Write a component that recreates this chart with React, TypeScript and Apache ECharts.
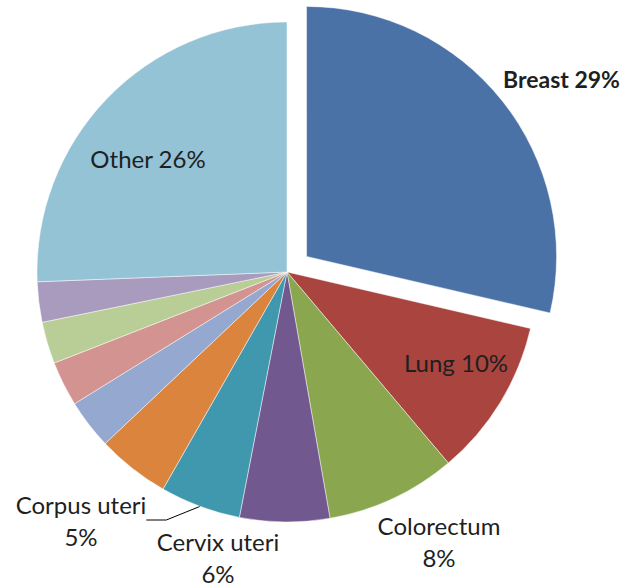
import React, { useEffect, useRef } from "react";
import * as echarts from "echarts";

const names = [
  "Breast",
  "Lung",
  "Colorectum",
  "Cervix uteri",
  "Corpus uteri",
  "Ovary",
  "Stomach",
  "Thyroid",
  "Liver",
  "Leukaemia",
  "Other",
];
const values = [28.6, 10.2, 8.4, 5.8, 5.2, 4.7, 3.2, 2.9, 2.7, 2.6, 25.6];
const colors = [
  "#4A72A6",
  "#A9443F",
  "#8AA64E",
  "#71588F",
  "#4098AF",
  "#DB843D",
  "#94A8D0",
  "#D29391",
  "#B9CD97",
  "#A99BBE",
  "#93C3D5",
];
const labelled = ["Lung", "Colorectum", "Cervix uteri", "Corpus uteri", "Other"];

// label anchor positions (pixels), keyed by category name
const labelPos: Record<string, { x: number; y: number; align: string }> = {
  Lung: { x: 456, y: 362, align: "center" },
  Colorectum: { x: 439, y: 541, align: "center" },
  "Cervix uteri": { x: 218, y: 557, align: "center" },
  "Corpus uteri": { x: 81, y: 520, align: "center" },
  Other: { x: 148, y: 158, align: "center" },
};

const FONT = "Lato, 'Noto Sans', sans-serif";

export default function App() {
  const ref = useRef<HTMLDivElement>(null);
  useEffect(() => {
    if (!ref.current) return;
    const chart = echarts.init(ref.current, null, { renderer: "svg" });
    const total = values.reduce((a, b) => a + b, 0);
    const breastText = `${names[0]} ${Math.round((values[0] / total) * 100)}%`;
    const data = names.map((n, i) => {
      const show = labelled.includes(n);
      const twoLine = n === "Colorectum" || n === "Cervix uteri" || n === "Corpus uteri";
      return {
        name: n,
        value: values[i],
        selected: n === "Breast",
        itemStyle: { color: colors[i] },
        label: {
          show,
          position: "outside",
          formatter: twoLine ? "{b}\n{d}%" : "{b} {d}%",
          fontSize: 24,
        },
        labelLine: {
          show: n === "Corpus uteri",
          length: 10,
          length2: 20,
          lineStyle: { color: "#000", width: 1 },
        },
      };
    });
    chart.setOption({
      animation: false,
      backgroundColor: "#ffffff",
      graphic: [
        {
          type: "text",
          x: 503,
          y: 79,
          style: {
            text: breastText,
            fontFamily: FONT,
            fontSize: 23,
            fontWeight: "bold",
            fill: "#1f1f1f",
            align: "left",
            verticalAlign: "middle",
          },
        },
      ],
      series: [
        {
          type: "pie",
          center: [287, 272],
          radius: [0, 250],
          startAngle: 90,
          clockwise: true,
          selectedMode: "single",
          selectedOffset: 25,
          percentPrecision: 0,
          avoidLabelOverlap: false,
          itemStyle: { borderColor: "rgba(255,255,255,0.6)", borderWidth: 0.8 },
          emphasis: { disabled: true },
          label: {
            fontFamily: FONT,
            color: "#1f1f1f",
            lineHeight: 32,
          },
          labelLayout: (params: any) => {
            const n = names[params.dataIndex];
            const p = labelPos[n];
            if (!p) return {};
            return { x: p.x, y: p.y, align: p.align, verticalAlign: "middle" };
          },
          data,
        },
      ],
    });
    return () => chart.dispose();
  }, []);
  return (
    <div
      ref={ref}
      style={{ position: "fixed", left: 0, top: 0, width: 630, height: 587 }}
    />
  );
}
